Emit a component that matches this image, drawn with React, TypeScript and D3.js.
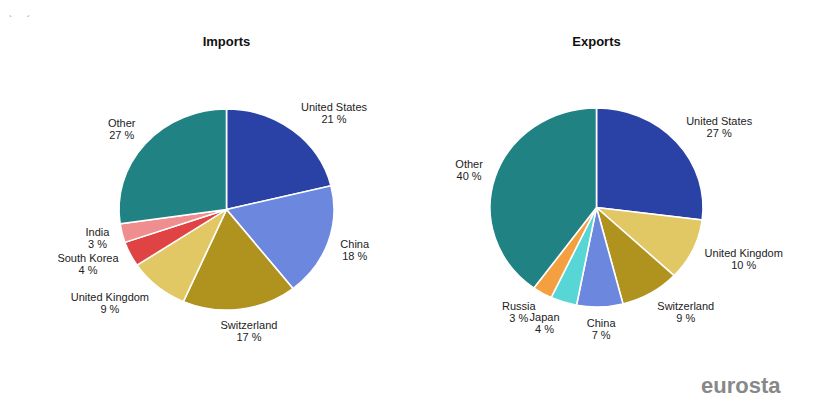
import * as d3 from 'd3';

const importLabels = ['United States', 'China', 'Switzerland', 'United Kingdom', 'South Korea', 'India', 'Other'];
const importValues = [21, 18, 17, 9, 4, 3, 27];
const importColors = ['#2a42a6', '#6b87de', '#b0931f', '#e2c864', '#e04343', '#ee8e8e', '#208282'];

const exportLabels = ['United States', 'United Kingdom', 'Switzerland', 'China', 'Japan', 'Russia', 'Other'];
const exportValues = [27, 10, 9, 7, 4, 3, 40];
const exportColors = ['#2a42a6', '#e2c864', '#b0931f', '#6b87de', '#58d6d6', '#f5a040', '#208282'];

const FONT = '"Liberation Sans", Arial, sans-serif';

let ctx: CanvasRenderingContext2D | null = null;
function textWidth(s: string) {
  if (!ctx) ctx = document.createElement('canvas').getContext('2d');
  if (!ctx) return s.length * 6;
  ctx.font = `11px ${FONT}`;
  return ctx.measureText(s).width;
}

type PieProps = {
  title: string;
  labels: string[];
  values: number[];
  colors: string[];
  cx: number;
  cy: number;
  rx: number;
  ry: number;
};

function Pie({ title, labels, values, colors, cx, cy, rx, ry }: PieProps) {
  const arcs = d3.pie<number>().sort(null).value(d => d)(values);
  const arc = d3.arc<d3.PieArcDatum<number>>().innerRadius(0).outerRadius(rx);
  const sy = ry / rx;
  const pad = 13;

  return (
    <g>
      <text x={cx} y={46} textAnchor="middle" fontFamily={FONT} fontWeight="bold" fontSize={13} fill="#111">
        {title}
      </text>
      <g transform={`translate(${cx},${cy}) scale(1,${sy})`}>
        {arcs.map((a, i) => (
          <path key={i} d={arc(a) || ''} fill={colors[i]} stroke="#fff" strokeWidth={1.6} />
        ))}
      </g>
      {arcs.map((a, i) => {
        const mid = (a.startAngle + a.endAngle) / 2;
        const s = Math.sin(mid);
        const c = Math.cos(mid);
        const px = cx + (rx + pad) * s;
        const py = cy - (ry + pad + 9) * c;
        const line1 = labels[i];
        const line2 = `${values[i]} %`;
        const w = Math.max(textWidth(line1), textWidth(line2));
        let bx = px;
        if (s > 0.2) bx = px + w / 2;
        else if (s < -0.2) bx = px - w / 2;
        else bx = px + s * w;
        return (
          <text key={i} textAnchor="middle" fontFamily={FONT} fontSize={11} fill="#222">
            <tspan x={bx} y={py - 2}>{line1}</tspan>
            <tspan x={bx} y={py + 10}>{line2}</tspan>
          </text>
        );
      })}
    </g>
  );
}

export default function App() {
  return (
    <svg width={832} height={412} style={{ position: 'absolute', left: 0, top: 0, background: '#fff' }}>
      <text x={9} y={22} fontSize={9} fill="#777" fontFamily={FONT}>`</text>
      <text x={27} y={22} fontSize={9} fill="#777" fontFamily={FONT}>´</text>
      <Pie title="Imports" labels={importLabels} values={importValues} colors={importColors}
        cx={226.5} cy={209.5} rx={107.5} ry={100.5} />
      <Pie title="Exports" labels={exportLabels} values={exportValues} colors={exportColors}
        cx={596.5} cy={207.5} rx={106.5} ry={99.5} />
      <text x={701} y={393} fontFamily={FONT} fontWeight="bold" fontSize={22} fill="#888">eurosta</text>
    </svg>
  );
}
